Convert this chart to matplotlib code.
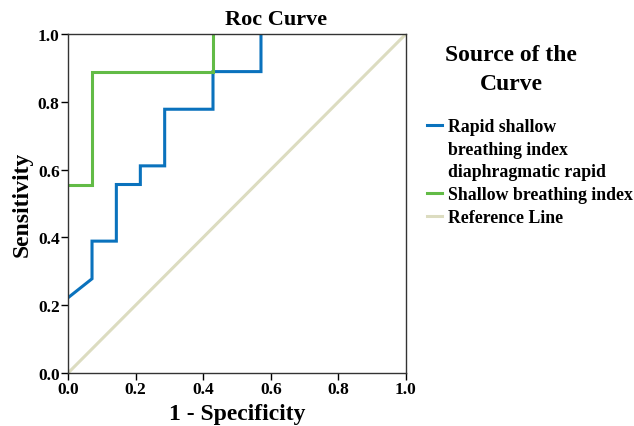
import matplotlib.pyplot as plt
from matplotlib.lines import Line2D

plt.rcParams['font.family'] = ['Liberation Serif', 'DejaVu Serif']
plt.rcParams['font.weight'] = 'bold'

# ROC curve points (1 - specificity, sensitivity)
rsbi_fpr = [0.0, 0.071, 0.071, 0.143, 0.143, 0.214, 0.214, 0.286, 0.286, 0.429, 0.429, 0.571, 0.571]
rsbi_tpr = [0.222, 0.278, 0.389, 0.389, 0.556, 0.556, 0.611, 0.611, 0.778, 0.778, 0.889, 0.889, 1.0]

sbi_fpr = [0.0, 0.071, 0.071, 0.429, 0.429]
sbi_tpr = [0.556, 0.556, 0.889, 0.889, 1.0]

ref_x = [0.0, 1.0]
ref_y = [0.0, 1.0]

labels = ['Rapid shallow\nbreathing index\ndiaphragmatic rapid',
          'Shallow breathing index',
          'Reference Line']
colors = ['#0a72bd', '#62bb46', '#dcdcc0']

fig = plt.figure(figsize=(6.34, 4.27), dpi=100)
ax = fig.add_axes([0.1073, 0.1241, 0.533, 0.794])

l1, = ax.plot(rsbi_fpr, rsbi_tpr, color=colors[0], lw=2.2, solid_joinstyle='miter')
l2, = ax.plot(sbi_fpr, sbi_tpr, color=colors[1], lw=2.2, solid_joinstyle='miter')
l3, = ax.plot(ref_x, ref_y, color=colors[2], lw=2.2)

ax.set_xlim(0, 1)
ax.set_ylim(0, 1)
ticks = [0.0, 0.2, 0.4, 0.6, 0.8, 1.0]
ax.set_xticks(ticks)
ax.set_yticks(ticks)
ax.set_xticklabels(['%.1f' % t for t in ticks], fontsize=12.5, fontweight='bold')
ax.set_yticklabels(['%.1f' % t for t in ticks], fontsize=12.5, fontweight='bold')
ax.tick_params(direction='out', length=5, width=1, pad=1)
for s in ax.spines.values():
    s.set_linewidth(1)
    s.set_color('#333333')

ax.set_xlabel('1 - Specificity', fontsize=17, fontweight='bold', labelpad=4)
ax.set_ylabel('Sensitivity', fontsize=17, fontweight='bold', labelpad=4)
fig.text(276 / 634, 1 - 20 / 427, 'Roc Curve', fontsize=16, fontweight='bold', ha='center', va='center')

# legend title drawn on its own so it can sit left of the box centre
fig.text(511 / 634, 1 - 70 / 427, 'Source of the\nCurve', fontsize=17, fontweight='bold',
         ha='center', va='center', multialignment='center', linespacing=1.55)

# first label wraps over three lines, handle sits on the first one
blank = Line2D([], [], color='none')
first = labels[0].split('\n')
handles = [l1] + [blank] * (len(first) - 1) + [l2, l3]
texts = first + labels[1:]

leg = fig.legend(handles, texts, loc='upper left', bbox_to_anchor=(427 / 634, 1 - 119 / 427),
                 frameon=False, fontsize=12.8, handlelength=0.85,
                 handletextpad=0.35, labelspacing=0.32, borderaxespad=0, borderpad=0)
for t in leg.get_texts():
    t.set_fontweight('bold')

fig.savefig('out.png', dpi=100)
